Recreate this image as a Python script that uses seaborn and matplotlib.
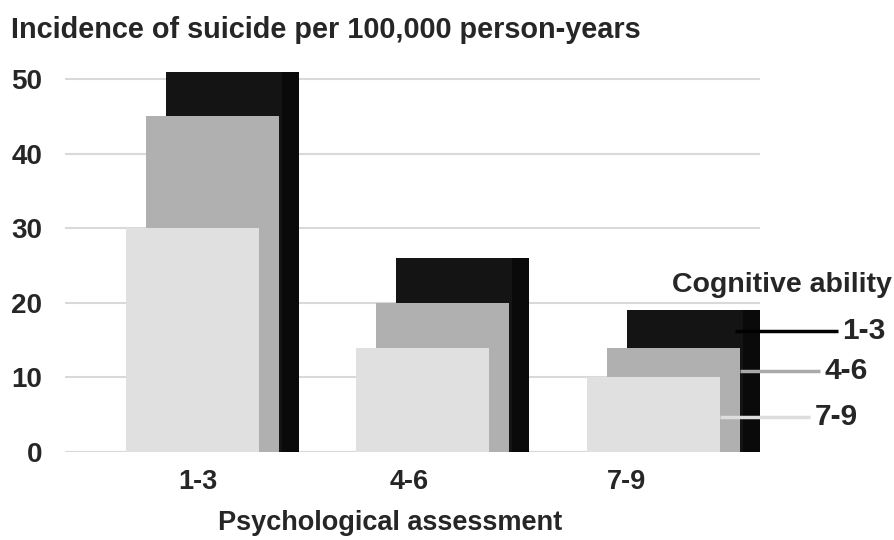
import numpy as np
import pandas as pd
import seaborn as sns
import matplotlib.pyplot as plt

sns.set_theme(style="white")
plt.rcParams['font.family'] = ['Liberation Sans', 'DejaVu Sans']
plt.rcParams['font.weight'] = 'bold'

# Data
assessment = ["1-3", "4-6", "7-9"]
ability = ["1-3", "4-6", "7-9"]
rate_ab_1_3 = [51, 26, 19]
rate_ab_4_6 = [45, 20, 14]
rate_ab_7_9 = [30, 14, 10]
series = [rate_ab_1_3, rate_ab_4_6, rate_ab_7_9]

face = ["#141414", "#b0b0b0", "#e0e0e0"]
side_col = "#0a0a0a"
shift = [0.1735, 0.0868, 0.0]   # pseudo-depth offsets, back to front
width = 0.577
side_w = 0.074

fig = plt.figure(figsize=(8.95, 5.4), dpi=100)
ax = fig.add_axes([0.0726, 0.163, 0.849 - 0.0726, 0.881 - 0.163])

idx = np.arange(len(assessment))
for k, vals in enumerate(series):
    df = pd.DataFrame({"x": idx + shift[k], "y": vals})
    sns.barplot(data=df, x="x", y="y", native_scale=True, width=width,
                color=face[k], saturation=1, edgecolor="none", ax=ax, zorder=2 + k)
    if k == 0:
        # darker right side of the back bar
        df_s = pd.DataFrame({"x": idx + shift[0] + width / 2 - side_w / 2, "y": vals})
        sns.barplot(data=df_s, x="x", y="y", native_scale=True,
                    width=side_w, color=side_col, saturation=1, edgecolor="none",
                    ax=ax, zorder=2.5)

ax.set_xlim(-0.553, 2.462)
ax.set_ylim(0, 52)
ax.set_yticks([0, 10, 20, 30, 40, 50])
ax.yaxis.grid(True, color="#d9d9d9", linewidth=1.5, zorder=0)
ax.set_axisbelow(True)
ax.set_xticks([0.022, 0.939, 1.885])
ax.set_xticklabels(assessment)
ax.tick_params(axis="y", length=0, pad=16.5, labelsize=20)
ax.tick_params(axis="x", length=0, pad=12, labelsize=19.5)
for lab in ax.get_xticklabels() + ax.get_yticklabels():
    lab.set_fontweight("bold")
for s in ax.spines.values():
    s.set_visible(False)
ax.axhline(0, color="#d9d9d9", linewidth=1.5, zorder=1)
ax.set_xlabel("Psychological assessment", fontsize=19.5, fontweight="bold", labelpad=11)
ax.xaxis.label.set_x(0.468)
ax.set_ylabel("")

fig.text(0.012, 0.945, "Incidence of suicide per 100,000 person-years",
         fontsize=20.8, fontweight="bold", va="center", ha="left")

# Legend leader lines from the last group
lead_y = [16.2, 10.9, 4.7]
lead_x0 = [2.354, 2.375, 2.2885]
lead_x1 = [2.80, 2.722, 2.679]
lead_col = ["#000000", "#aaaaaa", "#dddddd"]
for k in range(3):
    ax.plot([lead_x0[k], lead_x1[k]], [lead_y[k], lead_y[k]], color=lead_col[k],
            linewidth=2.5, clip_on=False, zorder=10, solid_capstyle="butt")
    ax.text(lead_x1[k] + 0.02, lead_y[k], ability[k], fontsize=21.5, fontweight="bold",
            va="center", ha="left", clip_on=False)
fig.text(0.996, 0.472, "Cognitive ability", fontsize=20.5, fontweight="bold",
         ha="right", va="center")

fig.savefig("out.png", dpi=100)
